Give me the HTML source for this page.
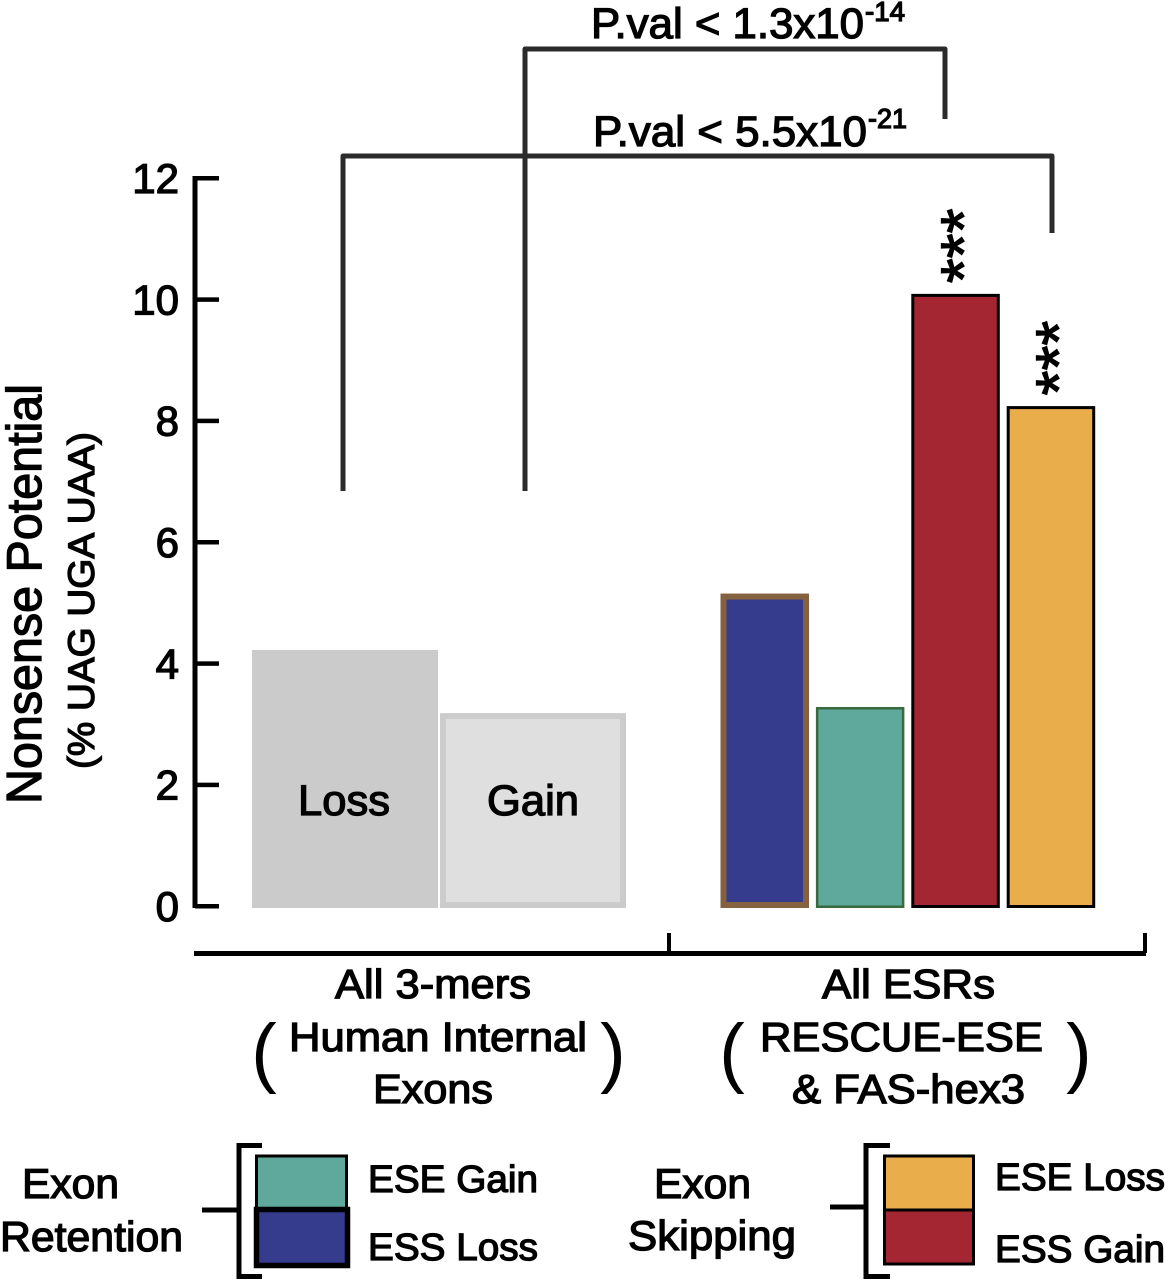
<!DOCTYPE html>
<html lang="en">
<head>
<meta charset="utf-8">
<title>Nonsense Potential chart</title>
<style>
html,body{margin:0;padding:0;background:#fff;width:1165px;height:1280px;overflow:hidden}
svg{display:block}
text{font-family:"Liberation Sans",sans-serif;fill:#000;stroke:#000;stroke-width:1.3px}
text.paren{stroke-width:0}
</style>
</head>
<body>
<svg id="chart" xmlns="http://www.w3.org/2000/svg" width="1165" height="1280" viewBox="0 0 1165 1280">
  <g id="bars"></g>

  <text x="298" y="815" font-size="43" textLength="92" lengthAdjust="spacingAndGlyphs">Loss</text>
  <text x="487" y="815" font-size="43" textLength="92" lengthAdjust="spacingAndGlyphs">Gain</text>

  <g id="y-axis">
    <rect x="192.500" y="176" width="5" height="732" fill="#000"/>
  </g>
  <text transform="translate(41,804) rotate(-90)" font-size="49" textLength="420" lengthAdjust="spacingAndGlyphs">Nonsense Potential</text>
  <text transform="translate(94,769) rotate(-90)" font-size="37" textLength="337" lengthAdjust="spacingAndGlyphs">(% UAG UGA UAA)</text>

  <g fill="#000">
    <rect x="194" y="951" width="952" height="5"/>
    <rect x="667" y="933" width="4" height="20"/>
    <rect x="1143" y="933" width="4" height="20"/>
  </g>

  <text x="335" y="998" font-size="41" textLength="196" lengthAdjust="spacingAndGlyphs">All 3-mers</text>
  <text x="289" y="1051" font-size="41" textLength="298" lengthAdjust="spacingAndGlyphs">Human Internal</text>
  <text x="373" y="1103" font-size="41" textLength="120" lengthAdjust="spacingAndGlyphs">Exons</text>
  <text class="paren" x="264" y="1078" font-size="77" text-anchor="middle">(</text>
  <text class="paren" x="613" y="1078" font-size="77" text-anchor="middle">)</text>

  <text x="822" y="998" font-size="41" textLength="173" lengthAdjust="spacingAndGlyphs">All ESRs</text>
  <text x="760" y="1051" font-size="41" textLength="283" lengthAdjust="spacingAndGlyphs">RESCUE-ESE</text>
  <text x="792" y="1103" font-size="41" textLength="233" lengthAdjust="spacingAndGlyphs">&amp; FAS-hex3</text>
  <text class="paren" x="732" y="1078" font-size="77" text-anchor="middle">(</text>
  <text class="paren" x="1079" y="1078" font-size="77" text-anchor="middle">)</text>

  <g fill="none" stroke="#2b2b2b" stroke-width="5" stroke-linejoin="round">
    <polyline points="525,491 525,49 945,49 945,119"/>
    <polyline points="343,491 343,156 1052,156 1052,233"/>
  </g>
  <text x="591" y="38" font-size="43" textLength="273" lengthAdjust="spacingAndGlyphs">P.val &lt; 1.3x10</text>
  <text x="865" y="21" font-size="28" textLength="40" lengthAdjust="spacingAndGlyphs">-14</text>
  <text x="593" y="146" font-size="43" textLength="274" lengthAdjust="spacingAndGlyphs">P.val &lt; 5.5x10</text>
  <text x="868" y="128" font-size="28" textLength="39" lengthAdjust="spacingAndGlyphs">-21</text>

  <g>
    <text x="22" y="1198" font-size="42" textLength="97" lengthAdjust="spacingAndGlyphs">Exon</text>
    <text x="0" y="1251" font-size="42" textLength="183" lengthAdjust="spacingAndGlyphs">Retention</text>
    <path d="M262,1145.500 H239 V1276.500 H262 M202,1210 H239" fill="none" stroke="#000" stroke-width="5"/>
    <rect x="256.500" y="1156" width="90" height="53" fill="#5ea89c" stroke="#000" stroke-width="3"/>
    <rect x="256.500" y="1209.500" width="91" height="56" fill="#353b8d" stroke="#000" stroke-width="5.500"/>
    <text x="368" y="1192" font-size="38" textLength="170" lengthAdjust="spacingAndGlyphs">ESE Gain</text>
    <text x="368" y="1260" font-size="38" textLength="170" lengthAdjust="spacingAndGlyphs">ESS Loss</text>
  </g>

  <g>
    <text x="654" y="1198" font-size="42" textLength="97" lengthAdjust="spacingAndGlyphs">Exon</text>
    <text x="628" y="1250" font-size="42" textLength="168" lengthAdjust="spacingAndGlyphs">Skipping</text>
    <path d="M890,1145.500 H866 V1276.500 H890 M830,1207 H866" fill="none" stroke="#000" stroke-width="5"/>
    <rect x="884.500" y="1156" width="89" height="54" fill="#eaad4c" stroke="#000" stroke-width="3"/>
    <rect x="884.500" y="1210" width="89" height="54" fill="#a52633" stroke="#000" stroke-width="3"/>
    <text x="995" y="1190" font-size="38" textLength="170" lengthAdjust="spacingAndGlyphs">ESE Loss</text>
    <text x="995" y="1262" font-size="38" textLength="170" lengthAdjust="spacingAndGlyphs">ESS Gain</text>
  </g>
</svg>
<script>
const tickValues = [0, 2, 4, 6, 8, 10, 12];
const tickLabels = ["0", "2", "4", "6", "8", "10", "12"];
const groupACategories = ["loss", "gain"];
const groupAValues = [4.22, 3.18];
const groupBCategories = ["ess-loss", "ese-gain", "ess-gain", "ese-loss"];
const groupBValues = [5.15, 3.28, 10.09, 8.24];
const groupBSignificance = ["", "", "***", "***"];

const NS = "http://www.w3.org/2000/svg";
const barStyles = {
  "loss": {fill: "#cbcbcb", stroke: "#cbcbcb", sw: 0},
  "gain": {fill: "#dfdfdf", stroke: "#cccccc", sw: 6},
  "ess-loss": {fill: "#353b8d", stroke: "#84613f", sw: 6},
  "ese-gain": {fill: "#5ea89c", stroke: "#38693f", sw: 2.5},
  "ess-gain": {fill: "#a52633", stroke: "#000000", sw: 3},
  "ese-loss": {fill: "#eaad4c", stroke: "#000000", sw: 3}
};

function yScale(v) { return 906 - v * (728 / 12); }
function xGroupA(i) { return 252 + i * 188; }
function xGroupB(i) { return 720.5 + i * 95.4; }

const barsLayer = document.getElementById("bars");
const axisLayer = document.getElementById("y-axis");
const chartRoot = document.getElementById("chart");

function drawBar(category, value, x, w) {
  const s = barStyles[category];
  const top = yScale(value);
  const bottom = yScale(0) + 2;
  const r = document.createElementNS(NS, "rect");
  
  
  r.setAttribute("x", x + s.sw / 2);
  r.setAttribute("y", top + s.sw / 2);
  r.setAttribute("width", w - s.sw);
  r.setAttribute("height", bottom - top - s.sw);
  r.setAttribute("fill", s.fill);
  r.setAttribute("stroke", s.stroke);
  r.setAttribute("stroke-width", s.sw);
  barsLayer.appendChild(r);
}

groupACategories.forEach(function (c, i) {
  drawBar(c, groupAValues[i], xGroupA(i), 186);
});
groupBCategories.forEach(function (c, i) {
  drawBar(c, groupBValues[i], xGroupB(i), 88.5);
  if (groupBSignificance[i]) {
    const t = document.createElementNS(NS, "text");
    
    
    const cx = xGroupB(i) + 44 + 30;
    const cy = yScale(groupBValues[i]) - 48;
    t.setAttribute("transform", "translate(" + cx + "," + cy + ") rotate(-90)");
    t.setAttribute("font-size", "64");
    t.setAttribute("text-anchor", "middle");
    t.textContent = groupBSignificance[i];
    chartRoot.appendChild(t);
  }
});

tickValues.forEach(function (v, i) {
  const y = yScale(v);
  const tick = document.createElementNS(NS, "rect");
  
  
  tick.setAttribute("x", 195);
  tick.setAttribute("y", y - 2);
  tick.setAttribute("width", 24);
  tick.setAttribute("height", 4.5);
  tick.setAttribute("fill", "#000");
  axisLayer.appendChild(tick);
  const label = document.createElementNS(NS, "text");
  
  
  label.setAttribute("x", 179);
  label.setAttribute("y", y + 15);
  label.setAttribute("font-size", "42");
  label.setAttribute("text-anchor", "end");
  label.textContent = tickLabels[i];
  axisLayer.appendChild(label);
});
</script>
</body>
</html>
